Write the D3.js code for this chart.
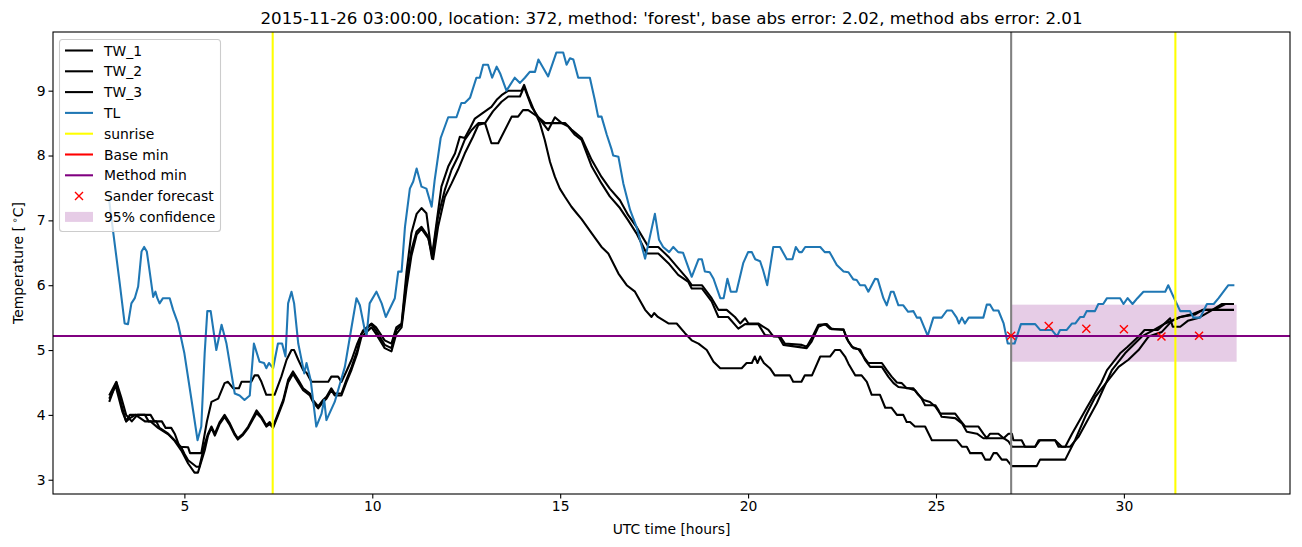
<!DOCTYPE html>
<html><head><meta charset="utf-8">
<script src="https://cdn.jsdelivr.net/npm/d3@7"></script>
<style>body{margin:0;background:#fff} svg{display:block} text{font-family:"DejaVu Sans",sans-serif;fill:#000}</style>
</head><body><svg id="chart" width="1302" height="547"></svg>
<script>
const titleText = "2015-11-26 03:00:00, location: 372, method: 'forest', base abs error: 2.02, method abs error: 2.01";
const xLabel = "UTC time [hours]";
const xTicks = [5, 10, 15, 20, 25, 30];
const yTicks = [3, 4, 5, 6, 7, 8, 9];
const legendLabels = ["TW_1", "TW_2", "TW_3", "TL", "sunrise", "Base min", "Method min", "Sander forecast", "95% confidence"];

// [hour, temperature] vertices
const TW_1 = [[3.0,4.3],[3.19,4.51],[3.33,4.25],[3.45,4.0],[3.6,3.9],[3.75,4.0],[4.1,4.0],[4.2,3.9],[4.4,3.9],[4.5,3.8],[4.65,3.8],[4.75,3.7],[4.87,3.51],[5.1,3.5],[5.15,3.41],[5.45,3.41],[5.6,3.9],[5.72,4.2],[5.9,4.25],[6.07,4.49],[6.16,4.51],[6.3,4.41],[6.45,4.41],[6.52,4.51],[6.78,4.51],[6.87,4.61],[6.96,4.61],[7.05,4.51],[7.18,4.31],[7.4,4.31],[7.58,4.59],[7.72,4.85],[7.85,5.0],[7.92,5.0],[8.03,4.85],[8.16,4.69],[8.25,4.65],[8.38,4.51],[8.83,4.51],[8.91,4.59],[9.09,4.59],[9.18,4.51],[9.31,4.67],[9.45,4.85],[9.6,5.1],[9.75,5.3],[9.98,5.41],[10.1,5.35],[10.33,5.15],[10.51,5.1],[10.64,5.35],[10.78,5.41],[10.91,6.2],[11.04,6.8],[11.18,7.1],[11.31,7.19],[11.44,7.11],[11.59,6.45],[11.84,7.52],[12.02,7.83],[12.2,8.03],[12.33,8.29],[12.46,8.27],[12.6,8.42],[12.73,8.57],[13.0,8.68],[13.17,8.75],[13.31,8.86],[13.44,8.93],[13.62,9.0],[13.97,9.0],[14.04,9.09],[14.15,8.91],[14.28,8.73],[14.46,8.5],[14.59,8.24],[14.73,7.9],[14.86,7.67],[14.99,7.49],[15.13,7.36],[15.3,7.21],[15.44,7.11],[15.57,7.02],[15.84,6.8],[16.1,6.59],[16.28,6.49],[16.55,6.18],[16.77,6.0],[16.99,5.9],[17.26,5.62],[17.43,5.51],[17.5,5.57],[17.6,5.51],[17.88,5.41],[18.1,5.41],[18.32,5.26],[18.5,5.15],[18.68,5.1],[18.9,5.0],[19.08,4.82],[19.26,4.72],[19.83,4.72],[19.96,4.8],[20.1,4.8],[20.18,4.9],[20.25,4.8],[20.32,4.9],[20.42,4.8],[20.58,4.72],[20.71,4.61],[21.11,4.61],[21.2,4.51],[21.42,4.51],[21.51,4.61],[21.7,4.61],[21.92,4.9],[22.18,4.9],[22.31,5.0],[22.45,5.0],[22.58,4.9],[22.67,4.79],[22.85,4.61],[23.02,4.61],[23.16,4.51],[23.29,4.31],[23.51,4.31],[23.65,4.11],[23.82,4.11],[23.96,4.0],[24.13,4.0],[24.22,3.89],[24.31,3.89],[24.44,3.82],[24.71,3.82],[24.89,3.61],[25.55,3.61],[25.69,3.51],[25.82,3.51],[25.91,3.41],[26.22,3.41],[26.31,3.31],[26.44,3.31],[26.53,3.41],[26.62,3.41],[26.75,3.31],[26.88,3.31],[27.02,3.21],[27.68,3.21],[27.77,3.31],[28.44,3.31],[28.7,3.61],[28.97,3.97],[29.24,4.28],[29.59,4.54],[29.86,4.74],[30.12,4.85],[30.39,5.0],[30.66,5.21],[31.01,5.28],[31.28,5.45],[31.5,5.51],[31.8,5.55],[32.1,5.62],[32.4,5.62],[32.7,5.71],[32.93,5.71]];

const TW_2 = [[3.0,4.2],[3.19,4.5],[3.35,4.1],[3.45,3.9],[3.55,4.0],[3.95,4.0],[4.05,3.9],[4.25,3.9],[4.34,3.8],[4.57,3.71],[4.74,3.61],[4.92,3.5],[5.0,3.4],[5.1,3.3],[5.32,3.2],[5.4,3.2],[5.54,3.55],[5.63,3.71],[5.72,3.82],[5.81,3.71],[5.94,3.89],[6.07,4.0],[6.21,3.87],[6.34,3.71],[6.42,3.64],[6.56,3.71],[6.7,3.82],[6.92,4.07],[7.05,3.97],[7.18,3.84],[7.27,3.89],[7.36,3.82],[7.49,4.02],[7.63,4.23],[7.76,4.54],[7.89,4.67],[8.03,4.54],[8.16,4.41],[8.34,4.33],[8.42,4.23],[8.56,4.13],[8.69,4.23],[8.78,4.28],[8.91,4.41],[9.0,4.33],[9.18,4.33],[9.31,4.54],[9.45,4.74],[9.6,5.0],[9.71,5.25],[9.98,5.4],[10.1,5.3],[10.33,5.08],[10.51,5.03],[10.64,5.31],[10.78,5.39],[10.91,6.08],[11.04,6.54],[11.18,6.83],[11.31,6.9],[11.49,6.75],[11.59,6.41],[11.75,7.06],[11.93,7.47],[12.11,7.78],[12.28,7.98],[12.46,8.24],[12.64,8.39],[12.82,8.5],[13.0,8.5],[13.21,8.68],[13.44,8.83],[13.62,8.91],[13.93,8.91],[14.04,9.06],[14.24,8.75],[14.42,8.59],[14.6,8.5],[15.13,8.5],[15.3,8.4],[15.57,8.27],[15.84,7.93],[16.1,7.67],[16.32,7.49],[16.59,7.31],[16.81,7.08],[17.03,6.9],[17.35,6.59],[17.61,6.59],[17.88,6.44],[18.1,6.29],[18.37,6.11],[18.5,6.0],[18.77,6.0],[19.03,5.8],[19.21,5.62],[19.43,5.62],[19.65,5.51],[19.79,5.41],[19.92,5.49],[20.01,5.41],[20.27,5.41],[20.54,5.31],[20.67,5.21],[20.85,5.21],[20.98,5.1],[21.43,5.08],[21.56,5.05],[21.69,5.18],[21.87,5.39],[22.1,5.4],[22.23,5.32],[22.54,5.32],[22.62,5.18],[22.76,5.05],[22.94,5.01],[23.07,4.9],[23.2,4.8],[23.56,4.8],[23.69,4.69],[23.82,4.59],[23.96,4.5],[24.09,4.49],[24.22,4.41],[24.4,4.41],[24.53,4.31],[24.67,4.23],[24.84,4.2],[24.98,4.13],[25.11,4.02],[25.51,4.02],[25.64,3.92],[25.78,3.82],[26.13,3.82],[26.26,3.71],[26.35,3.64],[26.44,3.71],[26.66,3.71],[26.8,3.64],[26.93,3.71],[27.02,3.71],[27.06,3.61],[27.28,3.61],[27.37,3.51],[27.64,3.51],[27.73,3.61],[28.17,3.61],[28.26,3.51],[28.44,3.51],[28.62,3.71],[29.0,4.1],[29.4,4.5],[29.55,4.69],[29.9,4.95],[30.1,5.05],[30.39,5.21],[30.55,5.31],[30.9,5.31],[31.23,5.49],[31.3,5.36],[31.5,5.36],[31.7,5.45],[32.0,5.5],[32.3,5.6],[32.6,5.71],[32.93,5.71]];

const TW_3 = [[3.0,4.25],[3.17,4.45],[3.35,4.05],[3.45,3.9],[3.55,3.95],[3.7,4.0],[3.95,3.9],[4.1,3.9],[4.3,3.8],[4.57,3.7],[4.74,3.6],[4.92,3.45],[5.1,3.25],[5.27,3.11],[5.36,3.11],[5.54,3.45],[5.63,3.68],[5.72,3.8],[5.81,3.68],[5.94,3.86],[6.07,3.97],[6.21,3.84],[6.34,3.69],[6.42,3.62],[6.56,3.69],[6.7,3.8],[6.92,4.03],[7.05,3.95],[7.18,3.82],[7.27,3.86],[7.36,3.8],[7.49,3.99],[7.63,4.2],[7.76,4.5],[7.89,4.63],[8.03,4.5],[8.16,4.38],[8.34,4.3],[8.42,4.2],[8.56,4.1],[8.69,4.2],[8.78,4.25],[8.91,4.38],[9.0,4.3],[9.18,4.3],[9.31,4.5],[9.45,4.7],[9.6,4.95],[9.71,5.2],[9.98,5.35],[10.1,5.25],[10.33,5.03],[10.51,4.98],[10.64,5.25],[10.78,5.35],[10.91,5.95],[11.04,6.45],[11.18,6.78],[11.31,6.87],[11.49,6.72],[11.62,6.4],[11.75,6.9],[11.93,7.36],[12.11,7.57],[12.28,7.78],[12.46,8.03],[12.68,8.29],[12.82,8.47],[13.0,8.5],[13.17,8.19],[13.35,8.19],[13.71,8.6],[13.88,8.6],[14.01,8.7],[14.15,8.7],[14.42,8.59],[14.68,8.39],[14.86,8.59],[15.04,8.5],[15.21,8.45],[15.39,8.32],[15.57,8.24],[15.84,7.83],[16.1,7.57],[16.32,7.37],[16.59,7.19],[16.81,7.0],[17.03,6.8],[17.3,6.49],[17.61,6.49],[17.88,6.34],[18.14,6.16],[18.41,6.05],[18.5,5.95],[18.77,5.95],[19.03,5.75],[19.21,5.51],[19.47,5.51],[19.74,5.33],[19.92,5.4],[20.27,5.4],[20.45,5.23],[20.81,5.21],[20.94,5.08],[21.56,5.03],[21.69,5.13],[21.87,5.36],[22.05,5.4],[22.18,5.33],[22.54,5.31],[22.67,5.13],[22.8,5.03],[22.98,5.01],[23.11,4.85],[23.25,4.74],[23.56,4.74],[23.73,4.59],[23.87,4.49],[24.0,4.43],[24.27,4.41],[24.44,4.38],[24.62,4.25],[24.71,4.15],[24.98,4.15],[25.07,4.07],[25.15,3.97],[25.51,3.95],[25.69,3.87],[25.82,3.74],[26.09,3.71],[26.26,3.64],[26.8,3.64],[26.93,3.59],[27.02,3.51],[27.64,3.51],[27.77,3.61],[28.17,3.61],[28.35,3.51],[28.57,3.51],[28.79,3.66],[29.28,4.18],[29.68,4.69],[30.03,4.95],[30.48,5.21],[30.8,5.31],[31.1,5.41],[31.5,5.51],[31.9,5.55],[32.1,5.62],[32.93,5.62]];

const TL = [[3.0,7.3],[3.28,6.03],[3.41,5.41],[3.5,5.4],[3.59,5.72],[3.68,5.8],[3.77,5.98],[3.86,6.52],[3.93,6.59],[4.0,6.52],[4.06,6.28],[4.17,5.82],[4.23,5.9],[4.28,5.8],[4.34,5.72],[4.43,5.8],[4.61,5.8],[4.7,5.62],[4.83,5.41],[5.0,4.95],[5.19,4.23],[5.35,3.61],[5.45,3.82],[5.54,4.95],[5.61,5.6],[5.7,5.6],[5.85,5.0],[5.99,5.39],[6.12,5.1],[6.34,4.33],[6.47,4.3],[6.6,4.23],[6.74,4.3],[6.85,5.1],[7.0,4.82],[7.12,4.8],[7.18,4.72],[7.25,4.8],[7.36,4.72],[7.49,5.1],[7.6,5.1],[7.69,4.9],[7.76,5.72],[7.85,5.9],[7.92,5.72],[8.03,5.1],[8.19,4.64],[8.25,4.8],[8.36,4.54],[8.51,3.82],[8.65,4.02],[8.72,4.23],[8.78,3.92],[9.0,4.2],[9.27,4.74],[9.45,5.36],[9.58,5.8],[9.67,5.69],[9.8,5.31],[9.85,5.23],[9.93,5.72],[10.11,5.9],[10.25,5.72],[10.36,5.51],[10.6,5.8],[10.69,6.21],[10.78,6.21],[10.87,6.9],[11.0,7.49],[11.09,7.6],[11.18,7.8],[11.31,7.52],[11.44,7.49],[11.58,7.21],[11.66,7.62],[11.82,8.27],[12.02,8.59],[12.24,8.59],[12.37,8.81],[12.46,8.81],[12.6,8.89],[12.77,9.2],[12.86,9.2],[12.95,9.4],[13.08,9.4],[13.19,9.2],[13.31,9.37],[13.4,9.27],[13.57,9.0],[13.79,9.2],[13.93,9.12],[14.06,9.2],[14.19,9.29],[14.33,9.29],[14.42,9.48],[14.5,9.4],[14.68,9.22],[14.9,9.59],[15.08,9.59],[15.17,9.4],[15.26,9.5],[15.35,9.48],[15.48,9.2],[15.79,9.2],[15.92,8.86],[16.01,8.6],[16.1,8.6],[16.24,8.32],[16.37,8.09],[16.41,8.0],[16.55,7.98],[16.68,7.57],[16.86,7.16],[17.03,6.9],[17.26,6.41],[17.52,7.1],[17.63,6.7],[17.74,6.59],[17.9,6.51],[18.01,6.59],[18.14,6.51],[18.27,6.5],[18.5,6.13],[18.68,6.4],[18.77,6.4],[18.85,6.21],[18.98,6.2],[19.08,6.1],[19.26,5.8],[19.35,5.8],[19.45,6.1],[19.54,5.9],[19.69,5.9],[19.87,6.34],[20.0,6.51],[20.1,6.51],[20.19,6.4],[20.32,6.37],[20.4,6.23],[20.51,6.0],[20.67,6.59],[20.85,6.59],[21.03,6.4],[21.18,6.4],[21.27,6.59],[21.36,6.51],[21.43,6.51],[21.52,6.59],[21.92,6.59],[22.04,6.51],[22.17,6.51],[22.36,6.31],[22.54,6.21],[22.67,6.2],[22.8,6.09],[22.89,6.08],[22.98,6.0],[23.11,6.0],[23.2,5.9],[23.38,6.1],[23.45,6.09],[23.6,5.8],[23.69,5.69],[23.8,5.9],[23.87,5.9],[24.0,5.69],[24.13,5.69],[24.26,5.59],[24.4,5.6],[24.49,5.5],[24.58,5.5],[24.78,5.22],[24.93,5.5],[25.15,5.5],[25.29,5.61],[25.42,5.61],[25.55,5.5],[25.61,5.41],[25.69,5.5],[25.77,5.41],[25.87,5.5],[26.26,5.5],[26.35,5.7],[26.44,5.7],[26.53,5.61],[26.66,5.61],[26.8,5.41],[26.91,5.1],[27.09,5.1],[27.26,5.4],[27.64,5.4],[27.77,5.31],[28.08,5.31],[28.22,5.21],[28.3,5.31],[28.48,5.31],[28.62,5.41],[28.71,5.41],[28.84,5.51],[28.93,5.51],[29.01,5.6],[29.23,5.6],[29.32,5.71],[29.45,5.71],[29.55,5.8],[29.9,5.8],[29.99,5.71],[30.1,5.8],[30.23,5.71],[30.36,5.8],[30.52,5.9],[31.1,5.9],[31.18,6.0],[31.32,5.82],[31.5,5.6],[31.76,5.6],[31.85,5.5],[32.03,5.5],[32.21,5.71],[32.39,5.71],[32.52,5.8],[32.65,5.9],[32.78,6.0],[32.94,6.0]];

const sunriseHours = [7.35, 31.37];
const forecastHour = 27;
const baseMin = 5.22;
const methodMin = 5.22;
const sanderHours = [27, 28, 29, 30, 31, 32];
const sanderTemps = [5.22, 5.37, 5.33, 5.32, 5.21, 5.22];
const confHours = [27, 33];
const confTemps = [4.82, 5.70];

const LW = 2.08;
const svg = d3.select("#chart");
const L = 53, R = 1290, T = 32, B = 494;
const x = d3.scaleLinear().domain([1.504, 34.42]).range([L, R]);
const y = d3.scaleLinear().domain([2.78, 9.905]).range([B, T]);

svg.append("defs").append("clipPath").attr("id", "clip")
  .append("rect").attr("x", L).attr("y", T).attr("width", R - L).attr("height", B - T);
const plot = svg.append("g").attr("clip-path", "url(#clip)");

// confidence band
plot.append("rect")
  .attr("x", x(confHours[0])).attr("width", x(confHours[1]) - x(confHours[0]))
  .attr("y", y(confTemps[1])).attr("height", y(confTemps[0]) - y(confTemps[1]))
  .attr("fill", "purple").attr("fill-opacity", 0.2);

const line = d3.line().x(d => x(d[0])).y(d => y(d[1]));
[TW_1, TW_2, TW_3].forEach(s => {
  plot.append("path").datum(s).attr("d", line).attr("fill", "none")
    .attr("stroke", "#000").attr("stroke-width", LW).attr("stroke-linejoin", "round");
});
plot.append("path").datum(TL).attr("d", line).attr("fill", "none")
  .attr("stroke", "#1f77b4").attr("stroke-width", LW).attr("stroke-linejoin", "round");

sunriseHours.forEach(h => {
  plot.append("line").attr("x1", x(h)).attr("x2", x(h)).attr("y1", T).attr("y2", B)
    .attr("stroke", "#ffff00").attr("stroke-width", LW);
});
plot.append("line").attr("x1", x(forecastHour)).attr("x2", x(forecastHour)).attr("y1", T).attr("y2", B)
  .attr("stroke", "gray").attr("stroke-width", LW);
const yMin = Math.round(y(methodMin));
plot.append("line").attr("x1", L).attr("x2", R).attr("y1", Math.round(y(baseMin))).attr("y2", Math.round(y(baseMin)))
  .attr("stroke", "red").attr("stroke-width", 2).attr("shape-rendering", "crispEdges");
plot.append("line").attr("x1", L).attr("x2", R).attr("y1", yMin).attr("y2", yMin)
  .attr("stroke", "purple").attr("stroke-width", 2).attr("shape-rendering", "crispEdges");

function cross(g, cx, cy, r) {
  g.append("path").attr("d", `M${cx - r},${cy - r}L${cx + r},${cy + r}M${cx - r},${cy + r}L${cx + r},${cy - r}`)
    .attr("stroke", "red").attr("stroke-width", 1.4).attr("fill", "none");
}
sanderHours.forEach((h, i) => cross(plot, x(h), y(sanderTemps[i]), 4));

// axes
const xAxis = svg.append("g").attr("transform", `translate(0,${B})`)
  .call(d3.axisBottom(x).tickValues(xTicks).tickSize(4.5).tickPadding(3).tickFormat(d3.format("d")));
const yAxis = svg.append("g").attr("transform", `translate(${L},0)`)
  .call(d3.axisLeft(y).tickValues(yTicks).tickSize(4.5).tickPadding(3).tickFormat(d3.format("d")));
[xAxis, yAxis].forEach(a => {
  a.select(".domain").remove();
  a.selectAll(".tick line").attr("stroke", "#000").attr("stroke-width", 1.1);
  a.selectAll(".tick text").attr("font-size", "13.9px").attr("font-family", "DejaVu Sans");
});
svg.append("rect").attr("x", L).attr("y", T).attr("width", R - L).attr("height", B - T)
  .attr("fill", "none").attr("stroke", "#000").attr("stroke-width", 1.1);

svg.append("text").attr("x", (L + R) / 2).attr("y", 23.5).attr("text-anchor", "middle")
  .attr("font-size", "16.7px").text(titleText);
svg.append("text").attr("x", (L + R) / 2).attr("y", 534).attr("text-anchor", "middle")
  .attr("font-size", "13.9px").text(xLabel);
const yl = svg.append("text").attr("transform", "translate(23,263) rotate(-90)")
  .attr("text-anchor", "middle").attr("font-size", "13.9px");
yl.append("tspan").text("Temperature [\u2009");
yl.append("tspan").attr("font-size", "9.7px").attr("dy", "-5").text("\u2218");
yl.append("tspan").attr("dy", "5").text("C]");

// legend
const lg = svg.append("g");
lg.append("rect").attr("x", 59.5).attr("y", 39.5).attr("width", 161).attr("height", 192)
  .attr("rx", 3).attr("fill", "#fff").attr("fill-opacity", 0.8).attr("stroke", "#cccccc").attr("stroke-width", 1.1);
const legendColors = ["#000", "#000", "#000", "#1f77b4", "#ffff00", "red", "purple", null, null];
legendLabels.forEach((lab, i) => {
  const cy = 50.5 + i * 20.8;
  if (i < 7) {
    lg.append("line").attr("x1", 65).attr("x2", 93).attr("y1", cy).attr("y2", cy)
      .attr("stroke", legendColors[i]).attr("stroke-width", LW);
  } else if (i === 7) {
    cross(lg, 79, cy, 4);
  } else {
    lg.append("rect").attr("x", 65).attr("y", cy - 5).attr("width", 28).attr("height", 10)
      .attr("fill", "purple").attr("fill-opacity", 0.2);
  }
  lg.append("text").attr("x", 104).attr("y", cy + 5).attr("font-size", "13.9px").text(lab);
});
</script></body></html>
